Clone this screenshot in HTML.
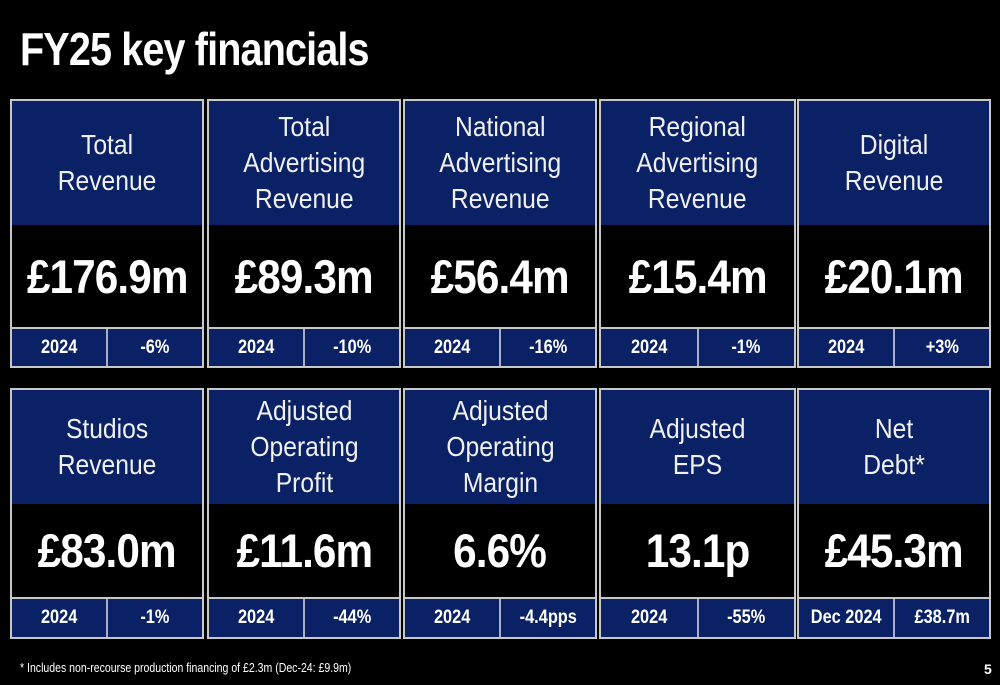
<!DOCTYPE html>
<html><head><meta charset="utf-8"><style>
body{margin:0;background:#000;width:1000px;height:685px;overflow:hidden;position:relative;font-family:"Liberation Sans",sans-serif;color:#fff}
.title{position:absolute;left:20px;top:22px;font-size:46px;font-weight:bold;letter-spacing:-1px;transform:scaleX(0.86);transform-origin:left}
.card{position:absolute;border:2px solid #c8c8c8;box-sizing:border-box;background:#000}
.hd{position:absolute;left:0;right:0;top:0;background:#0b2165;display:flex;align-items:center;justify-content:center;text-align:center;font-size:28px;line-height:36px;color:#f0f0f0}
.hd span{display:inline-block;transform:scaleX(0.88);white-space:nowrap}
.val{position:absolute;left:0;right:0;display:flex;align-items:center;justify-content:center;font-size:47px;font-weight:bold;letter-spacing:-1px}
.val span{display:inline-block;transform:scaleX(0.9)}
.ft{position:absolute;left:0;right:0;bottom:0;display:flex;background:#0b2165;border-top:2px solid #c8c8c8}
.ft div{flex:1;display:flex;align-items:center;justify-content:center;font-size:19px;font-weight:bold}
.ft div span{display:inline-block;transform:scaleX(0.86)}
.ft div:first-child{border-right:2px solid #a8b0c8}
.note{position:absolute;left:20px;top:660px;font-size:13px;transform:scaleX(0.81);transform-origin:left;white-space:nowrap}
.pg{position:absolute;left:984px;top:661px;font-size:14px;font-weight:bold}
</style></head><body>
<div class="title">FY25 key financials</div>
<div id="grid"></div>
<div class="note">* Includes non-recourse production financing of £2.3m (Dec-24: £9.9m)</div>
<div class="pg">5</div>
<script>
const labels=["Total<br>Revenue","Total<br>Advertising<br>Revenue","National<br>Advertising<br>Revenue","Regional<br>Advertising<br>Revenue","Digital<br>Revenue","Studios<br>Revenue","Adjusted<br>Operating<br>Profit","Adjusted<br>Operating<br>Margin","Adjusted<br>EPS","Net<br>Debt*"];
const values=["£176.9m","£89.3m","£56.4m","£15.4m","£20.1m","£83.0m","£11.6m","6.6%","13.1p","£45.3m"];
const periods=["2024","2024","2024","2024","2024","2024","2024","2024","2024","Dec 2024"];
const changes=["-6%","-10%","-16%","-1%","+3%","-1%","-44%","-4.4pps","-55%","£38.7m"];
const xs=[10,207,403,599,797],ws=[194,194,194,197,194];
const rows=[{y:99,h:269,hh:124,vh:102},{y:388,h:251,hh:114,vh:93}];
const g=document.getElementById('grid');
labels.forEach((l,i)=>{
 const r=rows[Math.floor(i/5)],c=i%5;
 const d=document.createElement('div');d.className='card';
 
 
 d.style.cssText=`left:${xs[c]}px;top:${r.y}px;width:${ws[c]}px;height:${r.h}px`;
 d.innerHTML=`<div class="hd" style="height:${r.hh}px"><span>${l}</span></div>
 <div class="val" style="top:${r.hh}px;height:${r.vh}px"><span>${values[i]}</span></div>
 <div class="ft" style="height:${r.h-4-r.hh-r.vh-2}px"><div><span>${periods[i]}</span></div><div><span>${changes[i]}</span></div></div>`;
 g.appendChild(d);
});
</script>
</body></html>
